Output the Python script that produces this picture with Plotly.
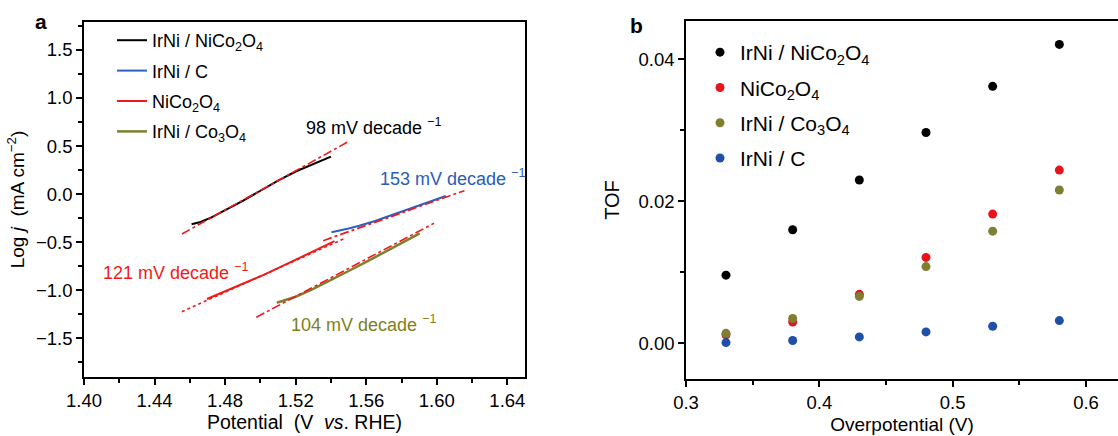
import plotly.graph_objects as go

# ---------------- Panel a data (Tafel plots) ----------------
v_irni_nico = [1.461, 1.466, 1.472, 1.480, 1.490, 1.500, 1.510, 1.520, 1.528, 1.535, 1.540]
l_irni_nico = [-0.314, -0.290, -0.245, -0.170, -0.070, 0.035, 0.140, 0.235, 0.300, 0.350, 0.390]

v_irni_c = [1.5403, 1.545, 1.550, 1.556, 1.565, 1.575, 1.585, 1.595, 1.600, 1.6051]
l_irni_c = [-0.397, -0.380, -0.358, -0.330, -0.280, -0.215, -0.150, -0.085, -0.052, -0.019]

v_nico = [1.4697, 1.475, 1.480, 1.490, 1.500, 1.510, 1.520, 1.530, 1.537, 1.542]
l_nico = [-1.091, -1.050, -1.010, -0.930, -0.855, -0.770, -0.680, -0.590, -0.530, -0.490]

v_irni_co = [1.5093, 1.515, 1.520, 1.530, 1.540, 1.550, 1.560, 1.570, 1.580, 1.5903]
l_irni_co = [-1.130, -1.100, -1.068, -0.985, -0.895, -0.800, -0.705, -0.610, -0.510, -0.408]

# Tafel fit lines (end points)
fit98_v = [1.4555, 1.5492]
fit98_l = [-0.415, 0.540]
fit153_v = [1.5356, 1.6157]
fit153_l = [-0.484, 0.036]
fit121_v = [1.4555, 1.5470]
fit121_l = [-1.223, -0.467]
fit104_v = [1.4977, 1.5984]
fit104_l = [-1.281, -0.303]

# ---------------- Panel b data (TOF) ----------------
overpotential = [0.33, 0.38, 0.43, 0.48, 0.53, 0.58]
tof_irni_nico = [0.0096, 0.0160, 0.0230, 0.0297, 0.0362, 0.0421]
tof_nico = [0.0012, 0.0030, 0.0069, 0.0121, 0.0182, 0.0244]
tof_irni_co = [0.0014, 0.0035, 0.0066, 0.0108, 0.0158, 0.0216]
tof_irni_c = [0.0001, 0.0004, 0.0009, 0.0016, 0.0024, 0.0032]

BLACK = "#000000"
BLUE_A = "#2f5fbf"
RED = "#f01a1a"
OLIVE = "#7f7f30"
BLUE_B = "#1f4fa6"
FONT = "Arial, Liberation Sans, sans-serif"

fig = go.Figure()

# panel a data curves
fig.add_trace(go.Scatter(x=v_irni_nico, y=l_irni_nico, mode="lines", line=dict(color=BLACK, width=2),
                         name="IrNi / NiCo<sub>2</sub>O<sub>4</sub>", legend="legend", legendgroup="a1",
                         xaxis="x", yaxis="y"))
fig.add_trace(go.Scatter(x=v_irni_c, y=l_irni_c, mode="lines", line=dict(color=BLUE_A, width=2),
                         name="IrNi / C", legend="legend", legendgroup="a2", xaxis="x", yaxis="y"))
fig.add_trace(go.Scatter(x=v_nico, y=l_nico, mode="lines", line=dict(color=RED, width=2),
                         name="NiCo<sub>2</sub>O<sub>4</sub>", legend="legend", legendgroup="a3",
                         xaxis="x", yaxis="y"))
fig.add_trace(go.Scatter(x=v_irni_co, y=l_irni_co, mode="lines", line=dict(color=OLIVE, width=2.5),
                         name="IrNi / Co<sub>3</sub>O<sub>4</sub>", legend="legend", legendgroup="a4",
                         xaxis="x", yaxis="y"))

# fit lines
for fv, fl, dash in [(fit98_v, fit98_l, "dashdot"), (fit153_v, fit153_l, "dashdot"),
                     (fit121_v, fit121_l, "dot"), (fit104_v, fit104_l, "dashdot")]:
    fig.add_trace(go.Scatter(x=fv, y=fl, mode="lines", line=dict(color=RED, width=1.6, dash=dash),
                             showlegend=False, hoverinfo="skip", xaxis="x", yaxis="y"))

# panel b markers
for i, (ys, col, nm) in enumerate([(tof_irni_nico, BLACK, "IrNi / NiCo<sub>2</sub>O<sub>4</sub>"),
                                   (tof_nico, "#e8141c", "NiCo<sub>2</sub>O<sub>4</sub>"),
                                   (tof_irni_co, "#7f7f33", "IrNi / Co<sub>3</sub>O<sub>4</sub>"),
                                   (tof_irni_c, BLUE_B, "IrNi / C")]):
    fig.add_trace(go.Scatter(x=overpotential, y=ys, mode="markers", marker=dict(color=col, size=9),
                             name=nm, legend="legend2", legendgroup=f"b{i}", xaxis="x2", yaxis="y2"))

W, H = 1118, 436
axis_common = dict(showline=True, linecolor="black", linewidth=1.5, ticks="outside", ticklen=6,
                   tickwidth=1.5, tickcolor="black", showgrid=False, zeroline=False, automargin=False,
                   tickfont=dict(family=FONT, size=18.5, color="black"))

fig.update_layout(
    width=W, height=H, margin=dict(l=0, r=0, t=0, b=0, autoexpand=False),
    paper_bgcolor="white", plot_bgcolor="white",
    font=dict(family=FONT, color="black"),
    xaxis=dict(domain=[84 / W, 525 / W], range=[1.40, 1.65], tickvals=[1.40, 1.44, 1.48, 1.52, 1.56, 1.60, 1.64],
               tickformat=".2f", mirror=True, anchor="y",
               minor=dict(tickvals=[1.42, 1.46, 1.50, 1.54, 1.58, 1.62], ticks="outside", ticklen=4,
                          tickwidth=1.5, tickcolor="black"),
               title=dict(text="Potential\u00a0\u00a0(V\u00a0\u00a0<i>vs</i>. RHE)", font=dict(size=19.5), standoff=4),
               **axis_common),
    yaxis=dict(domain=[1 - 377.3 / H, 1 - 21.7 / H], range=[-1.906, 1.794],
               tickvals=[-1.5, -1.0, -0.5, 0.0, 0.5, 1.0, 1.5], tickformat=".1f", mirror=True, anchor="x",
               minor=dict(tickvals=[-1.75, -1.25, -0.75, -0.25, 0.25, 0.75, 1.25, 1.75], ticks="outside",
                          ticklen=4, tickwidth=1.5, tickcolor="black"),
               title=dict(text="Log <i>j</i>\u00a0 (mA cm<sup>\u22122</sup>)", font=dict(size=19), standoff=6),
               **axis_common),
    xaxis2=dict(domain=[686 / W, 1.0], range=[0.3, 0.624], tickvals=[0.3, 0.4, 0.5, 0.6], tickformat=".1f",
                mirror=True, anchor="y2",
                minor=dict(tickvals=[0.35, 0.45, 0.55], ticks="outside", ticklen=4, tickwidth=1.5,
                           tickcolor="black"),
                title=dict(text="Overpotential (V)", font=dict(size=19), standoff=6),
                **axis_common),
    yaxis2=dict(domain=[1 - 379 / H, 1 - 21 / H], range=[-0.00503, 0.0454], tickvals=[0.0, 0.02, 0.04],
                tickformat=".2f", mirror=False, anchor="x2",
                minor=dict(tickvals=[0.01, 0.03], ticks="outside", ticklen=4, tickwidth=1.5, tickcolor="black"),
                title=dict(text="TOF", font=dict(size=20), standoff=14),
                **axis_common),
    legend=dict(x=112 / W, y=1 - 22 / H, xanchor="left", yanchor="top", bgcolor="rgba(0,0,0,0)",
                font=dict(family=FONT, size=18, color="black"), tracegroupgap=4, itemwidth=30,
                traceorder="grouped"),
    legend2=dict(x=700 / W, y=1 - 32 / H, xanchor="left", yanchor="top", bgcolor="rgba(0,0,0,0)",
                 font=dict(family=FONT, size=21, color="black"), tracegroupgap=5, itemwidth=30,
                 traceorder="grouped"),
    showlegend=True,
)

# Tafel slope annotations
ann = [
    ("98 mV decade <sup>\u22121</sup>", 1.5247, 0.70, BLACK),
    ("153 mV decade <sup>\u22121</sup>", 1.5666, 0.17, "#2b5cb8"),
    ("121 mV decade <sup>\u22121</sup>", 1.4095, -0.80, RED),
    ("104 mV decade <sup>\u22121</sup>", 1.5160, -1.35, "#7f7f20"),
]
for txt, x, y, c in ann:
    fig.add_annotation(text=txt, x=x, y=y, xref="x", yref="y", xanchor="left", yanchor="middle",
                       showarrow=False, font=dict(family=FONT, size=18, color=c))

fig.add_annotation(text="<b>a</b>", x=33 / W, y=1 - 8 / H, xref="paper", yref="paper", showarrow=False,
                   font=dict(family=FONT, size=21, color="black"))
fig.add_annotation(text="<b>b</b>", x=636 / W, y=1 - 12 / H, xref="paper", yref="paper", showarrow=False,
                   font=dict(family=FONT, size=21, color="black"))

fig.write_html("out.html", config={"displayModeBar": False},
               post_script="document.body.style.margin='0';document.body.style.padding='0';")
